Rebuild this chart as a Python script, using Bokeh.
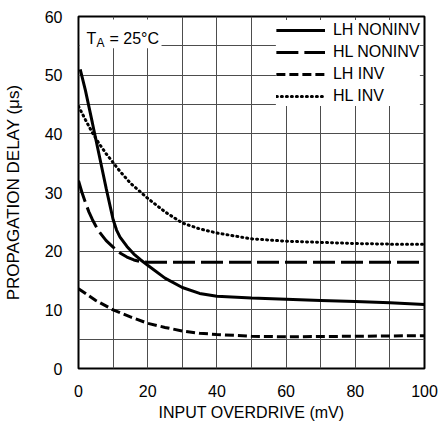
from bokeh.plotting import figure
from bokeh.models import FixedTicker, Legend, LegendItem, Label, BoxAnnotation
from bokeh.embed import file_html
from bokeh.resources import INLINE

# ---- data ----
x_lh_noninv = [0.5, 2, 4, 6, 8, 10, 11, 12, 14, 16, 18, 20, 25, 30, 35, 40, 50, 60, 70, 80, 90, 100]
y_lh_noninv = [51.0, 47.4, 41.9, 36.3, 30.7, 25.4, 23.6, 22.4, 20.8, 19.5, 18.5, 17.6, 15.4, 13.8, 12.8, 12.3, 12.0, 11.8, 11.6, 11.4, 11.2, 10.9]

x_hl_noninv = [0, 1, 2, 3, 4, 5, 6, 8, 10, 12, 14, 16, 18, 20, 100]
y_hl_noninv = [32.0, 30.0, 28.3, 26.7, 25.4, 24.3, 23.3, 21.8, 20.7, 19.7, 19.0, 18.5, 18.2, 18.1, 18.1]

x_lh_inv = [0, 5, 10, 15, 20, 25, 30, 35, 40, 50, 60, 70, 80, 90, 100]
y_lh_inv = [13.6, 11.6, 10.0, 8.8, 7.7, 7.0, 6.4, 6.0, 5.8, 5.5, 5.4, 5.45, 5.5, 5.55, 5.6]

x_hl_inv = [0, 2, 4, 6, 8, 10, 12, 15, 20, 25, 30, 35, 40, 50, 60, 70, 80, 90, 100]
y_hl_inv = [44.7, 42.4, 40.2, 38.3, 36.6, 35.1, 33.6, 31.6, 29.0, 26.7, 24.8, 23.8, 23.1, 22.1, 21.7, 21.5, 21.3, 21.2, 21.2]

x_ticks = [0, 20, 40, 60, 80, 100]
x_grid = [10, 20, 30, 40, 50, 60, 70, 80, 90]
y_ticks = [0, 10, 20, 30, 40, 50, 60]
y_grid = [5, 10, 15, 20, 25, 30, 35, 40, 45, 50, 55]

FONT = "Liberation Sans"

p = figure(frame_width=346, frame_height=352, x_range=(0, 100), y_range=(0, 60),
           output_backend="svg", toolbar_location=None,
           min_border_left=74, min_border_right=14, min_border_top=16, min_border_bottom=51)

p.xaxis.ticker = FixedTicker(ticks=x_ticks)
p.yaxis.ticker = FixedTicker(ticks=y_ticks)
p.xgrid.ticker = FixedTicker(ticks=x_grid)
p.ygrid.ticker = FixedTicker(ticks=y_grid)
p.grid.grid_line_color = "#4d4d4d"
p.grid.grid_line_width = 1

p.outline_line_color = "black"
p.outline_line_width = 2
p.axis.axis_line_color = None
p.axis.major_tick_line_color = None
p.axis.minor_tick_line_color = None
p.axis.major_label_text_font = FONT
p.axis.major_label_text_font_size = "16px"
p.axis.major_label_text_color = "black"
p.axis.axis_label_text_font = FONT
p.axis.axis_label_text_font_style = "normal"
p.axis.axis_label_text_color = "black"
p.xaxis.axis_label_text_font_size = "16px"
p.yaxis.axis_label_text_font_size = "17px"
p.xaxis.axis_label = "INPUT OVERDRIVE (mV)"
p.yaxis.axis_label = "PROPAGATION DELAY (μs)"
p.xaxis.major_label_standoff = 10
p.xaxis.axis_label_standoff = 4
p.yaxis.major_label_standoff = 10
p.yaxis.axis_label_standoff = 19

r1 = p.line(x_lh_noninv, y_lh_noninv, line_color="black", line_width=3)
r2 = p.line(x_hl_noninv, y_hl_noninv, line_color="black", line_width=3, line_dash="22 6")
r3 = p.line(x_lh_inv, y_lh_inv, line_color="black", line_width=3, line_dash="9 4")
r4 = p.line(x_hl_inv, y_hl_inv, line_color="black", line_width=3, line_dash="1 4", line_cap="round")

# white box behind the temperature note
p.add_layout(BoxAnnotation(left=0.4, right=24, bottom=54.6, top=59.5,
                           fill_color="white", fill_alpha=1, line_alpha=0))

p.add_layout(Label(x=0, y=60, x_offset=8, y_offset=-22, text="T", text_font=FONT,
                   text_font_size="16px", text_color="black", text_baseline="alphabetic"))
p.add_layout(Label(x=0, y=60, x_offset=18, y_offset=-26, text="A", text_font=FONT,
                   text_font_size="12px", text_color="black", text_baseline="alphabetic"))
p.add_layout(Label(x=0, y=60, x_offset=31, y_offset=-22, text="= 25°C", text_font=FONT,
                   text_font_size="16px", text_color="black", text_baseline="alphabetic"))

legend = Legend(items=[
    LegendItem(label="LH NONINV", renderers=[r1]),
    LegendItem(label="HL NONINV", renderers=[r2]),
    LegendItem(label="LH INV", renderers=[r3]),
    LegendItem(label="HL INV", renderers=[r4]),
], location="top_right", margin=4, padding=5, spacing=2,
   glyph_width=49, glyph_height=20, label_height=20, label_standoff=8,
   label_text_font=FONT, label_text_font_size="16px", label_text_color="black",
   border_line_color=None, background_fill_color="white", background_fill_alpha=1)
p.add_layout(legend)

open("out.html", "w").write(file_html(p, INLINE))
